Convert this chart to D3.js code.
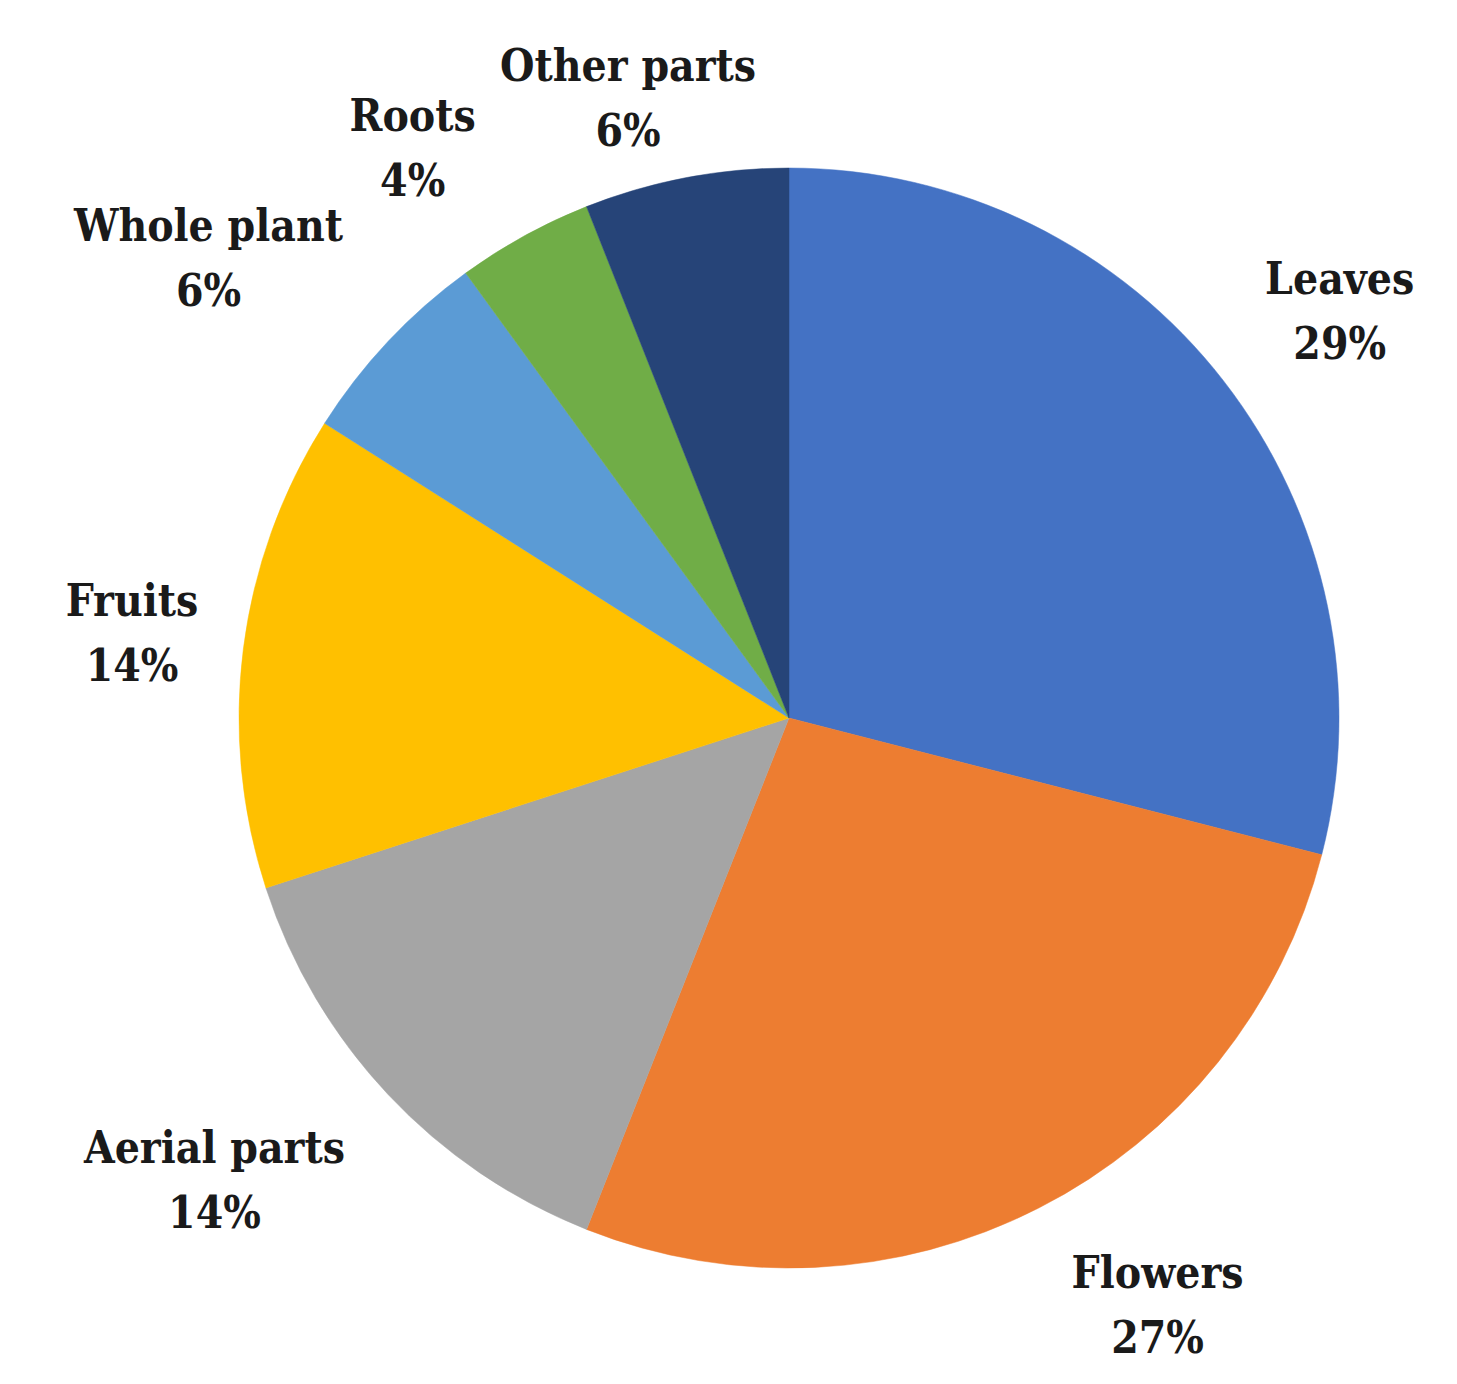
<!DOCTYPE html>
<html>
<head>
<meta charset="utf-8">
<script src="https://cdn.jsdelivr.net/npm/d3@7"></script>
<style>
  html, body { margin: 0; padding: 0; background: #ffffff; }
  svg { display: block; }
</style>
</head>
<body>
<svg id="chart" width="1457" height="1384"></svg>
<script>
// ---- data ----
const categories = ["Leaves", "Flowers", "Aerial parts", "Fruits", "Whole plant", "Roots", "Other parts"];
const values = [29, 27, 14, 14, 6, 4, 6];
const colors = ["#4472C4", "#ED7D31", "#A5A5A5", "#FFC000", "#5B9BD5", "#70AD47", "#264478"];

// ---- layout (label nudges relative to outer label point, px) ----
const labelRadius = 640;
const labelNudge = [
  [45, -32], [78, 0], [-108, 7], [-22, -22], [-114, -39], [-68, -26], [-41, -8]
];

const W = 1457, H = 1384;
const cx = 789, cy = 718, R = 550;

const svg = d3.select("#chart");
const g = svg.append("g").attr("transform", `translate(${cx},${cy})`);

const data = categories.map((c, i) => ({ name: c, value: values[i], color: colors[i] }));
const pie = d3.pie().value(d => d.value).sort(null);
const arcs = pie(data);
const arc = d3.arc().innerRadius(0).outerRadius(R);
const labelArc = d3.arc().innerRadius(labelRadius).outerRadius(labelRadius);

g.selectAll("path.slice")
  .data(arcs)
  .enter().append("path")
  .attr("class", "slice")
  .attr("d", arc)
  .attr("fill", d => d.data.color)
  .attr("stroke", d => d.data.color)
  .attr("stroke-width", 0.5);

const total = d3.sum(values);
const labels = g.selectAll("text.lbl")
  .data(arcs)
  .enter().append("text")
  .attr("class", "lbl")
  .attr("text-anchor", "middle")
  .attr("font-family", "'DejaVu Serif Condensed', 'DejaVu Serif', serif")
  .attr("font-weight", "bold")
  .attr("font-size", 44)
  .attr("fill", "#1a1a1a")
  .attr("transform", (d, i) => {
    const [x, y] = labelArc.centroid(d);
    return `translate(${x + labelNudge[i][0]},${y + labelNudge[i][1]})`;
  });

labels.append("tspan").attr("x", 0).attr("y", 0).text(d => d.data.name);
labels.append("tspan").attr("x", 0).attr("y", 65)
  .text(d => Math.round(d.data.value / total * 100) + "%");
</script>
</body>
</html>
